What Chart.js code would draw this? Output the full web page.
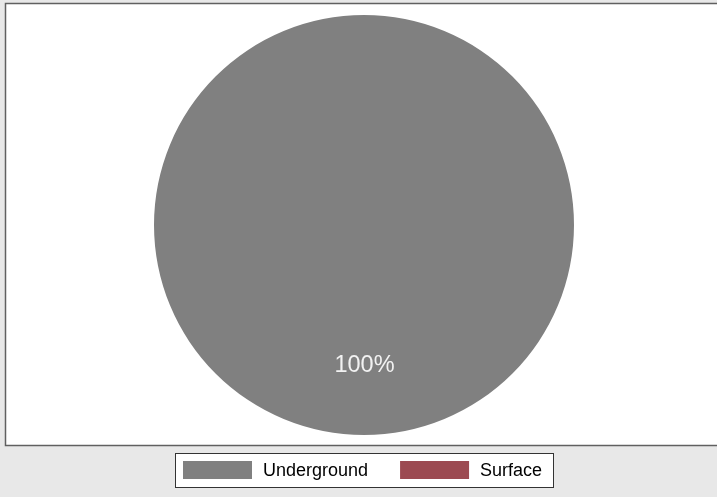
<!DOCTYPE html>
<html>
<head>
<meta charset="utf-8">
<script src="https://cdn.jsdelivr.net/npm/chart.js@4"></script>
<style>
  html, body { margin: 0; padding: 0; background: #e8e8e8; }
  #wrap { width: 717px; height: 497px; }
</style>
</head>
<body>
<div id="wrap"><canvas id="Chart1" width="717" height="497"></canvas></div>
<script>
const labels = ['Underground', 'Surface'];
const values = [100, 0];
const colors = ['#808080', '#9c4a51'];

// frame around the plot region and legend, drawn behind the pie
const framePlugin = {
    id: 'frame',
    beforeDraw(chart) {
        const c = chart.ctx;
        c.save();
        c.fillStyle = '#e8e8e8';
        c.fillRect(0, 0, chart.width, chart.height);
        c.fillStyle = '#ffffff';
        c.fillRect(5, 3, chart.width, 443);
        c.strokeStyle = '#606060';
        c.lineWidth = 1.5;
        c.strokeRect(5.5, 3.5, chart.width + 5, 442);
        c.restore();
    },
    afterDraw(chart) {
        const c = chart.ctx;
        const ds = chart.data.datasets[0];
        const total = ds.data.reduce((a, b) => a + b, 0);

        // slice labels
        const meta = chart.getDatasetMeta(0);
        c.save();
        c.font = '23.5px Arial, "Liberation Sans"';
        c.fillStyle = '#f2f2f2';
        c.textAlign = 'center';
        c.textBaseline = 'middle';
        meta.data.forEach((arc, i) => {
            const v = ds.data[i];
            if (!v) return;
            const p = arc.getProps(['x', 'y', 'startAngle', 'endAngle', 'outerRadius']);
            const mid = (p.startAngle + p.endAngle) / 2;
            const r = p.outerRadius * 0.67;
            c.fillText(Math.round(v / total * 100) + '%', p.x + 0.5 + Math.cos(mid) * r, p.y + Math.sin(mid) * r);
        });
        c.restore();

        // legend
        c.save();
        c.font = '18px Arial, "Liberation Sans"';
        c.textBaseline = 'middle';
        c.fillStyle = '#ffffff';
        c.fillRect(175, 453, 378, 34);
        c.strokeStyle = '#333333';
        c.lineWidth = 1;
        c.strokeRect(175.5, 453.5, 378, 34);
        let x = 183;
        chart.data.labels.forEach((lab, i) => {
            c.fillStyle = ds.backgroundColor[i];
            c.fillRect(x, 461, 69, 18);
            c.fillStyle = '#000000';
            c.fillText(lab, x + 80, 471);
            x += 80 + c.measureText(lab).width + 32;
        });
        c.restore();
    }
};

new Chart(document.getElementById('Chart1'), {
    type: 'pie',
    data: {
        labels: labels,
        datasets: [{
            data: values,
            backgroundColor: colors,
            borderWidth: 0
        }]
    },
    options: {
        responsive: false,
        animation: false,
        layout: { padding: { top: 15, bottom: 62, left: 11, right: 0 } },
        plugins: {
            legend: { display: false },
            tooltip: { enabled: false }
        }
    },
    plugins: [framePlugin]
});
</script>
</body>
</html>
